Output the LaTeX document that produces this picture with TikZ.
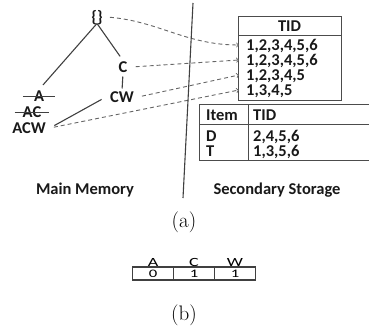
\documentclass[tikz,border=0pt]{standalone}
\usepackage{fontspec}
\setsansfont{Carlito}
\newfontfamily\widesans[FakeStretch=1.45]{Carlito}
\usetikzlibrary{positioning}

\tikzstyle{lbl}   = [font=\sffamily\bfseries\fontsize{16.5}{18}\selectfont,text=black!90,inner sep=1pt,text height=10.6pt,text depth=0pt]
\tikzstyle{tlbl}  = [lbl,inner xsep=4pt]
\tikzstyle{row}   = [lbl,anchor=west,inner xsep=0pt]
\tikzstyle{link}  = [draw=black!75,line width=1.1pt]
\tikzstyle{ptr}   = [draw=black!60,line width=0.9pt,dash pattern=on 4pt off 3pt,->]
\tikzstyle{frame} = [draw=black!70,line width=1pt]
\tikzstyle{subcap}= [font=\fontsize{21}{24}\selectfont,inner sep=0pt]
\tikzstyle{cell}  = [draw=black!75,line width=1.2pt,minimum width=41pt,minimum height=13pt,inner sep=0pt,outer sep=0pt,font=\widesans\fontsize{11.5}{12}\selectfont]
\tikzstyle{bit}   = [font=\widesans\fontsize{12.5}{13}\selectfont,inner sep=0.5pt,text height=8.1pt,text depth=0pt]

\begin{document}
\begin{tikzpicture}[x=1pt,y=-1pt]
\useasboundingbox (0,0) rectangle (369,326);

% itemset tree kept in main memory
\node [tlbl](root) at (97,17){\{\}};
\node [lbl,inner xsep=11pt](a) at (39,96){A};
\node [lbl,inner xsep=8pt](ac) at (32,112){AC};
\node [tlbl](acw) at (29,128){ACW};
\node [tlbl](c) at (123,67){C};
\node [tlbl](cw) at (122,97){CW};
\draw [link,line width=0.8pt] (a.west) -- (a.east);
\draw [link,line width=0.8pt] (ac.west) -- (ac.east);

\draw [link,shorten >=6pt] (root.south) -- (a.north);
\draw [link,shorten >=5pt] (root.south) -- (c.north);
\draw [link,shorten <=3pt,shorten >=2pt] (c.south) -- (cw.north);
\draw [link,shorten <=5pt,shorten >=5pt] (acw.east) -- (cw.west);

% tid-lists on disk
\draw [frame] (238,17) rectangle (341,101);
\draw [frame] (238,36) -- (341,36);
\node [lbl](tidhead) at (289.5,26.5){TID};
\node [row](r1) at (246,45){1,2,3,4,5,6};
\node [row](r2) at (246,60){1,2,3,4,5,6};
\node [row](r3) at (246,75){1,2,3,4,5};
\node [row](r4) at (246,90){1,3,4,5};
\coordinate (e1) at (239,45);
\coordinate (e2) at (239,60);
\coordinate (e3) at (239,75);
\coordinate (e4) at (239,90);

\draw [ptr,shorten <=3pt] (root.east) to[out=-5,in=180] (e1);
\draw [ptr,shorten <=4pt] (c.east) -- (e2);
\draw [ptr,shorten <=4pt] (cw.east) -- (e3);
\draw [ptr,shorten <=4pt] (acw.east) -- (e4);

% item table
\draw [frame] (369,105) -- (199,105) -- (199,160) -- (369,160);
\draw [frame] (199,124) -- (369,124);
\draw [frame] (248,105) -- (248,160);
\node [row](itemhead) at (206,115){Item};
\node [row](tidhead2) at (253,115){TID};
\node [row](d) at (206,136){D};
\node [row](t) at (206,151){T};
\node [row](dtid) at (253,136){2,4,5,6};
\node [row](ttid) at (253,151){1,3,5,6};

% memory / storage split
\draw [link] (193,3) -- (183,198);
\node [lbl](mem) at (85,189){Main Memory};
\node [lbl](disk) at (277,189){Secondary Storage};
\node [subcap](capa) at (184,222){(a)};

% bit vector
\node [cell](ca) at (153,273.5){0};
\node [cell,right=0pt of ca](cc){1};
\node [cell,right=0pt of cc](cwb){1};
\node [bit,above=0pt of ca](ha){A};
\node [bit,above=0pt of cc](hc){C};
\node [bit,above=0pt of cwb](hw){W};
\node [subcap](capb) at (184,315){(b)};
\end{tikzpicture}
\end{document}
